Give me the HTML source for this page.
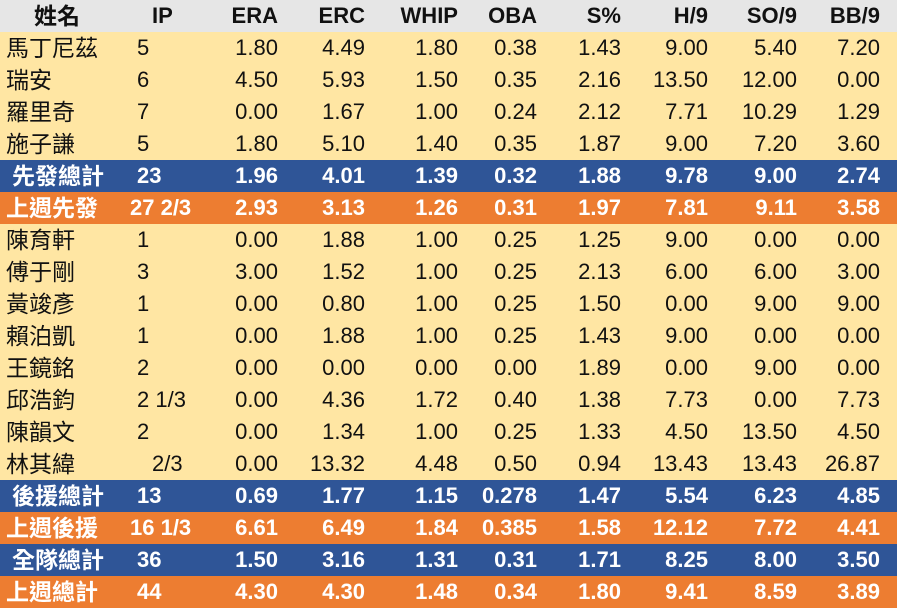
<!DOCTYPE html>
<html><head><meta charset="utf-8"><style>
body{margin:0;width:900px;height:610px;background:#fff;overflow:hidden}
table{border-collapse:collapse;table-layout:fixed;width:897px;font-family:"Liberation Sans","Noto Sans CJK TC",sans-serif;font-size:22px;color:#111}
td{height:32px;padding:0 7px 0 0;text-align:right;white-space:nowrap;line-height:32px}
td:first-child{text-align:left;padding-left:6px;font-size:23px}
td:nth-child(2){text-align:left;padding-left:12px}
tr{background:#ffe6a3}
tr.h{background:#e6e6e6;font-weight:bold}
tr.h td:nth-child(2){padding-left:27px}
tr.b{background:#2f5597;color:#fff;font-weight:bold}
tr.o{background:#ed7d31;color:#fff;font-weight:bold}
tr.b td:first-child{padding-left:12px}
</style></head><body>
<table>
<colgroup><col style="width:125px"><col style="width:75px"><col style="width:85px"><col style="width:87px"><col style="width:93px"><col style="width:79px"><col style="width:84px"><col style="width:87px"><col style="width:89px"><col style="width:93px"></colgroup>
<tr class="h"><td style="padding-left:34px">姓名</td><td>IP</td><td>ERA</td><td>ERC</td><td>WHIP</td><td>OBA</td><td>S%</td><td>H/9</td><td>SO/9</td><td style="padding-right:17px">BB/9</td></tr>
<tr><td>馬丁尼茲</td><td>5</td><td>1.80</td><td>4.49</td><td>1.80</td><td>0.38</td><td>1.43</td><td>9.00</td><td>5.40</td><td style="padding-right:17px">7.20</td></tr>
<tr><td>瑞安</td><td>6</td><td>4.50</td><td>5.93</td><td>1.50</td><td>0.35</td><td>2.16</td><td>13.50</td><td>12.00</td><td style="padding-right:17px">0.00</td></tr>
<tr><td>羅里奇</td><td>7</td><td>0.00</td><td>1.67</td><td>1.00</td><td>0.24</td><td>2.12</td><td>7.71</td><td>10.29</td><td style="padding-right:17px">1.29</td></tr>
<tr><td>施子謙</td><td>5</td><td>1.80</td><td>5.10</td><td>1.40</td><td>0.35</td><td>1.87</td><td>9.00</td><td>7.20</td><td style="padding-right:17px">3.60</td></tr>
<tr class="b"><td>先發總計</td><td>23</td><td>1.96</td><td>4.01</td><td>1.39</td><td>0.32</td><td>1.88</td><td>9.78</td><td>9.00</td><td style="padding-right:17px">2.74</td></tr>
<tr class="o"><td>上週先發</td><td style="padding-left:5px">27 2/3</td><td>2.93</td><td>3.13</td><td>1.26</td><td>0.31</td><td>1.97</td><td>7.81</td><td>9.11</td><td style="padding-right:17px">3.58</td></tr>
<tr><td>陳育軒</td><td>1</td><td>0.00</td><td>1.88</td><td>1.00</td><td>0.25</td><td>1.25</td><td>9.00</td><td>0.00</td><td style="padding-right:17px">0.00</td></tr>
<tr><td>傅于剛</td><td>3</td><td>3.00</td><td>1.52</td><td>1.00</td><td>0.25</td><td>2.13</td><td>6.00</td><td>6.00</td><td style="padding-right:17px">3.00</td></tr>
<tr><td>黃竣彥</td><td>1</td><td>0.00</td><td>0.80</td><td>1.00</td><td>0.25</td><td>1.50</td><td>0.00</td><td>9.00</td><td style="padding-right:17px">9.00</td></tr>
<tr><td>賴泊凱</td><td>1</td><td>0.00</td><td>1.88</td><td>1.00</td><td>0.25</td><td>1.43</td><td>9.00</td><td>0.00</td><td style="padding-right:17px">0.00</td></tr>
<tr><td>王鏡銘</td><td>2</td><td>0.00</td><td>0.00</td><td>0.00</td><td>0.00</td><td>1.89</td><td>0.00</td><td>9.00</td><td style="padding-right:17px">0.00</td></tr>
<tr><td>邱浩鈞</td><td>2 1/3</td><td>0.00</td><td>4.36</td><td>1.72</td><td>0.40</td><td>1.38</td><td>7.73</td><td>0.00</td><td style="padding-right:17px">7.73</td></tr>
<tr><td>陳韻文</td><td>2</td><td>0.00</td><td>1.34</td><td>1.00</td><td>0.25</td><td>1.33</td><td>4.50</td><td>13.50</td><td style="padding-right:17px">4.50</td></tr>
<tr><td>林其緯</td><td style="padding-left:27px">2/3</td><td>0.00</td><td>13.32</td><td>4.48</td><td>0.50</td><td>0.94</td><td>13.43</td><td>13.43</td><td style="padding-right:17px">26.87</td></tr>
<tr class="b"><td>後援總計</td><td>13</td><td>0.69</td><td>1.77</td><td>1.15</td><td>0.278</td><td>1.47</td><td>5.54</td><td>6.23</td><td style="padding-right:17px">4.85</td></tr>
<tr class="o"><td>上週後援</td><td style="padding-left:5px">16 1/3</td><td>6.61</td><td>6.49</td><td>1.84</td><td>0.385</td><td>1.58</td><td>12.12</td><td>7.72</td><td style="padding-right:17px">4.41</td></tr>
<tr class="b"><td>全隊總計</td><td>36</td><td>1.50</td><td>3.16</td><td>1.31</td><td>0.31</td><td>1.71</td><td>8.25</td><td>8.00</td><td style="padding-right:17px">3.50</td></tr>
<tr class="o"><td>上週總計</td><td>44</td><td>4.30</td><td>4.30</td><td>1.48</td><td>0.34</td><td>1.80</td><td>9.41</td><td>8.59</td><td style="padding-right:17px">3.89</td></tr>
</table>
</body></html>
